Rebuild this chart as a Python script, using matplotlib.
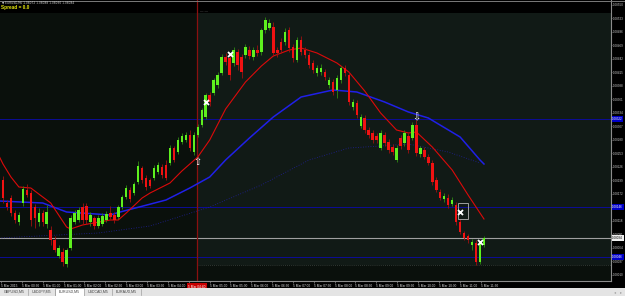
import matplotlib
matplotlib.use("Agg")
import matplotlib.pyplot as plt
from matplotlib.patches import Rectangle
import matplotlib.transforms as mtransforms

plt.rcParams["font.family"] = ["Liberation Sans", "DejaVu Sans"]

# ---------------- data (EURUSD, M5) ----------------
opens = [1.08200, 1.08154, 1.08164, 1.08134, 1.08116, 1.08154, 1.08180, 1.08174, 1.08146, 1.08116,
         1.08134, 1.08112, 1.08100, 1.08080, 1.08048, 1.08056, 1.08032, 1.08064, 1.08116, 1.08120,
         1.08146, 1.08148, 1.08116, 1.08124, 1.08108, 1.08112, 1.08120, 1.08134, 1.08130, 1.08126,
         1.08146, 1.08166, 1.08180, 1.08174, 1.08196, 1.08224, 1.08204, 1.08200, 1.08204, 1.08216,
         1.08226, 1.08230, 1.08234, 1.08264, 1.08256, 1.08276, 1.08280, 1.08290, 1.08256, 1.08290,
         1.08310, 1.08326, 1.08370, 1.08374, 1.08390, 1.08414, 1.08446, 1.08444, 1.08434, 1.08456,
         1.08446, 1.08450, 1.08460, 1.08446, 1.08460, 1.08456, 1.08500, 1.08504, 1.08506, 1.08460,
         1.08476, 1.08476, 1.08500, 1.08466, 1.08440, 1.08480, 1.08460, 1.08450, 1.08434, 1.08414,
         1.08416, 1.08416, 1.08390, 1.08396, 1.08380, 1.08400, 1.08424, 1.08410, 1.08346, 1.08354,
         1.08308, 1.08324, 1.08300, 1.08294, 1.08288, 1.08264, 1.08290, 1.08276, 1.08266, 1.08240,
         1.08284, 1.08274, 1.08288, 1.08284, 1.08310, 1.08252, 1.08260, 1.08246, 1.08234, 1.08200,
         1.08176, 1.08162, 1.08164, 1.08152, 1.08150, 1.08116, 1.08094, 1.08088, 1.08070, 1.08074,
         1.08036, 1.08070]
closes = [1.08164, 1.08146, 1.08134, 1.08120, 1.08130, 1.08182, 1.08170, 1.08120, 1.08124, 1.08134,
          1.08116, 1.08136, 1.08080, 1.08060, 1.08064, 1.08036, 1.08060, 1.08124, 1.08134, 1.08140,
          1.08120, 1.08120, 1.08130, 1.08108, 1.08124, 1.08128, 1.08132, 1.08126, 1.08120, 1.08146,
          1.08166, 1.08184, 1.08162, 1.08192, 1.08228, 1.08200, 1.08186, 1.08188, 1.08224, 1.08230,
          1.08210, 1.08204, 1.08264, 1.08240, 1.08280, 1.08288, 1.08290, 1.08264, 1.08290, 1.08306,
          1.08340, 1.08370, 1.08356, 1.08400, 1.08410, 1.08446, 1.08436, 1.08410, 1.08460, 1.08430,
          1.08416, 1.08466, 1.08448, 1.08460, 1.08454, 1.08500, 1.08520, 1.08514, 1.08454, 1.08454,
          1.08460, 1.08496, 1.08464, 1.08444, 1.08480, 1.08456, 1.08450, 1.08430, 1.08420, 1.08424,
          1.08424, 1.08406, 1.08400, 1.08376, 1.08404, 1.08424, 1.08414, 1.08356, 1.08356, 1.08330,
          1.08326, 1.08300, 1.08290, 1.08280, 1.08280, 1.08294, 1.08274, 1.08260, 1.08256, 1.08264,
          1.08268, 1.08294, 1.08260, 1.08310, 1.08254, 1.08264, 1.08246, 1.08234, 1.08196, 1.08180,
          1.08164, 1.08168, 1.08150, 1.08160, 1.08116, 1.08096, 1.08084, 1.08080, 1.08076, 1.08036,
          1.08072, 1.08084]
highs = [1.08208, 1.08160, 1.08170, 1.08140, 1.08136, 1.08188, 1.08192, 1.08180, 1.08152, 1.08144,
         1.08140, 1.08150, 1.08108, 1.08088, 1.08070, 1.08064, 1.08064, 1.08130, 1.08140, 1.08146,
         1.08154, 1.08154, 1.08136, 1.08128, 1.08130, 1.08134, 1.08138, 1.08148, 1.08136, 1.08150,
         1.08170, 1.08190, 1.08186, 1.08196, 1.08238, 1.08228, 1.08210, 1.08204, 1.08230, 1.08236,
         1.08232, 1.08240, 1.08270, 1.08268, 1.08286, 1.08294, 1.08296, 1.08300, 1.08296, 1.08312,
         1.08344, 1.08374, 1.08376, 1.08404, 1.08416, 1.08452, 1.08454, 1.08450, 1.08466, 1.08462,
         1.08452, 1.08472, 1.08468, 1.08466, 1.08470, 1.08504, 1.08526, 1.08522, 1.08516, 1.08466,
         1.08484, 1.08504, 1.08506, 1.08472, 1.08486, 1.08488, 1.08466, 1.08456, 1.08440, 1.08430,
         1.08432, 1.08422, 1.08406, 1.08402, 1.08410, 1.08428, 1.08430, 1.08416, 1.08362, 1.08360,
         1.08332, 1.08330, 1.08306, 1.08300, 1.08294, 1.08300, 1.08296, 1.08282, 1.08272, 1.08270,
         1.08290, 1.08300, 1.08294, 1.08316, 1.08320, 1.08268, 1.08266, 1.08252, 1.08240, 1.08206,
         1.08182, 1.08174, 1.08172, 1.08166, 1.08156, 1.08122, 1.08098, 1.08092, 1.08082, 1.08080,
         1.08078, 1.08088]
lows = [1.08154, 1.08140, 1.08128, 1.08114, 1.08110, 1.08148, 1.08166, 1.08108, 1.08104, 1.08108,
        1.08108, 1.08104, 1.08070, 1.08056, 1.08044, 1.08028, 1.08026, 1.08060, 1.08112, 1.08116,
        1.08112, 1.08112, 1.08108, 1.08102, 1.08104, 1.08108, 1.08116, 1.08122, 1.08114, 1.08122,
        1.08142, 1.08162, 1.08156, 1.08170, 1.08192, 1.08194, 1.08180, 1.08184, 1.08200, 1.08212,
        1.08204, 1.08200, 1.08230, 1.08236, 1.08252, 1.08272, 1.08276, 1.08258, 1.08250, 1.08286,
        1.08306, 1.08322, 1.08348, 1.08370, 1.08384, 1.08410, 1.08430, 1.08400, 1.08428, 1.08420,
        1.08404, 1.08444, 1.08442, 1.08440, 1.08448, 1.08450, 1.08494, 1.08500, 1.08448, 1.08446,
        1.08454, 1.08470, 1.08456, 1.08436, 1.08436, 1.08450, 1.08444, 1.08424, 1.08414, 1.08408,
        1.08410, 1.08400, 1.08384, 1.08370, 1.08364, 1.08394, 1.08408, 1.08350, 1.08340, 1.08324,
        1.08304, 1.08294, 1.08284, 1.08274, 1.08274, 1.08260, 1.08268, 1.08254, 1.08250, 1.08236,
        1.08262, 1.08268, 1.08254, 1.08280, 1.08248, 1.08246, 1.08242, 1.08230, 1.08190, 1.08176,
        1.08160, 1.08156, 1.08144, 1.08148, 1.08110, 1.08092, 1.08080, 1.08074, 1.08060, 1.08030,
        1.08032, 1.08066]

# moving averages read at bar indexes
red_ma_idx = [-1, 0, 2, 4, 7, 12, 16, 17, 20, 27, 29, 31, 35, 37, 42, 45, 49, 52, 56, 61, 65, 68,
              72, 75, 79, 84, 87, 91, 95, 99, 102, 104, 108, 113, 117, 120, 121]
red_ma = [1.08248, 1.08232, 1.08206, 1.08186, 1.08184, 1.08154, 1.08106, 1.08102, 1.08110, 1.08120,
          1.08120, 1.08134, 1.08164, 1.08174, 1.08194, 1.08218, 1.08246, 1.08280, 1.08342, 1.08396,
          1.08428, 1.08448, 1.08460, 1.08464, 1.08454, 1.08434, 1.08416, 1.08378, 1.08334, 1.08300,
          1.08294, 1.08296, 1.08266, 1.08220, 1.08170, 1.08134, 1.08122]
blue_ma_idx = [-1, 10, 16, 27, 29, 41, 47, 52, 56, 62, 68, 75, 83, 89, 96, 102, 107, 115, 120, 121]
blue_ma = [1.08158, 1.08154, 1.08136, 1.08130, 1.08135, 1.08160, 1.08184, 1.08206, 1.08240, 1.08284,
           1.08326, 1.08366, 1.08380, 1.08376, 1.08356, 1.08336, 1.08324, 1.08286, 1.08240, 1.08232]
slow_ma_idx = [-1, 24, 37, 52, 65, 77, 87, 95, 102, 112, 120]
slow_ma = [1.08084, 1.08094, 1.08108, 1.08146, 1.08190, 1.08240, 1.08264, 1.08268, 1.08272,
           1.08256, 1.08234]

blue_levels = [1.08322, 1.08146, 1.08046]
gray_level = 1.08084
vline_idx = 48.7

x_marks_idx = [51, 57, 115, 120]
x_marks_price = [1.08356, 1.08452, 1.08136, 1.08076]
up_arrow = (49, 1.08236)
down_arrow = (104, 1.08326)

price_ticks = [1.08550, 1.08523, 1.08496, 1.08469, 1.08442, 1.08415, 1.08388, 1.08361, 1.08334,
               1.08307, 1.08280, 1.08253, 1.08226, 1.08199, 1.08172, 1.08145, 1.08118, 1.08091,
               1.08064, 1.08037, 1.08010]
time_labels = ["5 Mar 2015", "5 Mar 00:30", "5 Mar 01:00", "5 Mar 01:30", "5 Mar 02:00",
               "5 Mar 02:30", "5 Mar 03:00", "5 Mar 03:30", "5 Mar 04:00", "5 Mar 04:30",
               "5 Mar 05:00", "5 Mar 05:30", "5 Mar 06:00", "5 Mar 06:30", "5 Mar 07:00",
               "5 Mar 07:30", "5 Mar 08:00", "5 Mar 08:30", "5 Mar 09:00", "5 Mar 09:30",
               "5 Mar 10:00", "5 Mar 10:30", "5 Mar 11:00", "5 Mar 11:30"]
vline_label = "5 Mar 04:40"
tabs = ["GBPUSD,M5", "USDJPY,M5", "EURUSD,M5", "USDCAD,M5", "EURAUD,M5"]

# ---------------- layout ----------------
W, H = 625, 296
SP = 3.975          # px per bar
fig = plt.figure(figsize=(W / 100, H / 100), dpi=100)
fig.patch.set_facecolor("black")

ax = fig.add_axes([0, 1 - 281 / H, 611 / W, 281 / H])
ax.set_xlim(-3 / SP, 608 / SP)
ax.set_ylim(1.07998, 1.08560)
ax.set_facecolor("#0a100c")


def py2price(py):
    return 1.08560 - py * (1.08560 - 1.07998) / 281


# lighter area right of the vertical line
ax.add_patch(Rectangle((vline_idx, py2price(265)), 608 / SP - vline_idx, py2price(13) - py2price(265),
                       facecolor="#111a16", edgecolor="none", zorder=0.2))
ax.plot([vline_idx, 608 / SP], [py2price(265)] * 2, color="#3c4440", lw=0.6, ls=(0, (1, 1.5)), zorder=0.3)
# black header strip
ax.add_patch(Rectangle((0, (281 - 13) / 281), 1, 13 / 281, transform=ax.transAxes,
                       facecolor="black", edgecolor="none", zorder=0.4))

# levels
for lv in blue_levels:
    ax.axhline(lv, color="#0c0c96", lw=0.7, zorder=1)
ax.axhline(gray_level, color="#a0a0a0", lw=0.8, zorder=1)
ax.axvline(vline_idx, color="#8a1010", lw=0.9, zorder=1)

# moving averages
ax.plot(slow_ma_idx, slow_ma, color="#20209a", lw=0.6, ls=(0, (1, 2)), zorder=2)
ax.plot(blue_ma_idx, blue_ma, color="#2020e8", lw=1.1, zorder=2)
ax.plot(red_ma_idx, red_ma, color="#dc0a0a", lw=0.8, zorder=2)

# candles
bw = 0.62
for i, (o, c, h, l) in enumerate(zip(opens, closes, highs, lows)):
    up = c >= o
    body = "#5ef01e" if up else "#f01212"
    wick = "#2e8a12" if up else "#a01010"
    ax.plot([i, i], [l, h], color=wick, lw=0.6, zorder=3, solid_capstyle="butt")
    lo, hi = min(o, c), max(o, c)
    ax.add_patch(Rectangle((i - bw / 2, lo), bw, max(hi - lo, 0.000015),
                           facecolor=body, edgecolor="none", zorder=4))

# signals
ax.plot(x_marks_idx, x_marks_price, ls="none", marker="x", ms=3.6, mew=1.3, color="white", zorder=6)
ax.add_patch(Rectangle((114.4, py2price(219)), 2.6, py2price(203) - py2price(219),
                       facecolor="none", edgecolor="#b4b4b4", lw=0.6, zorder=5))
ax.text(up_arrow[0], up_arrow[1], "\u21e7", color="white", fontsize=7, ha="center", va="center",
        family="DejaVu Sans", zorder=6)
ax.text(down_arrow[0], down_arrow[1], "\u21e9", color="white", fontsize=7, ha="center", va="center",
        family="DejaVu Sans", zorder=6)

# spines / axes
for s in ["left", "top"]:
    ax.spines[s].set_visible(False)
for s in ["right", "bottom"]:
    ax.spines[s].set_color("#8c8c8c")
    ax.spines[s].set_linewidth(0.8)
ax.yaxis.tick_right()
ax.set_yticks(price_ticks)
ax.set_yticklabels([f"{p:.5f}" for p in price_ticks])
ax.tick_params(axis="y", colors="#8c8c8c", labelcolor="#c8c8c8", labelsize=2.2, length=1.0,
               width=0.5, pad=0.4)

tick_pos = [(1 + 20.85 * k - 3) / SP for k in range(len(time_labels))]
ax.set_xticks(tick_pos)
ax.set_xticklabels(time_labels)
ax.tick_params(axis="x", colors="#8c8c8c", labelcolor="#e0e0e0", labelsize=2.3, length=1.2,
               width=0.5, pad=0.8)
for k, lbl in enumerate(ax.get_xticklabels()):
    lbl.set_horizontalalignment("left")
    # the label that sits under the vertical line's time box is hidden in the terminal
    if abs(tick_pos[k] - vline_idx) < 2.0:
        lbl.set_visible(False)

blend_y = mtransforms.blended_transform_factory(ax.transAxes, ax.transData)
for lv in blue_levels:
    ax.text(1.002, lv, f"{lv:.5f}", transform=blend_y, fontsize=2.2, color="white", va="center",
            ha="left", bbox=dict(boxstyle="square,pad=0.2", fc="#0000c8", ec="none"), clip_on=False,
            zorder=10)
ax.text(1.002, gray_level, f"{gray_level:.5f}", transform=blend_y, fontsize=2.2, color="black",
        va="center", ha="left", bbox=dict(boxstyle="square,pad=0.2", fc="#f0f0f0", ec="none"),
        clip_on=False, zorder=10)

blend_x = mtransforms.blended_transform_factory(ax.transData, ax.transAxes)
ax.text(vline_idx, -0.02, vline_label, transform=blend_x, fontsize=2.3, color="white", ha="center",
        va="center", bbox=dict(boxstyle="square,pad=0.4", fc="#c80000", ec="none"), clip_on=False,
        zorder=10)

# header text
fig.text(2 / W, 1 - 2.8 / H, "\u25bc EURUSD,M5 1.08072 1.08088 1.08030 1.08084", fontsize=2.1,
         color="#d0d0d0", va="center", ha="left", family=["DejaVu Sans"])
fig.text(1 / W, 1 - 8 / H, "Spread = 0.0", fontsize=3.4, color="#e8e810", va="center", ha="left",
         weight="bold")
fig.text(200 / W, 1 - 11.5 / H, "\u2014 \u2014", fontsize=2.5, color="#6a6a6a", va="center", ha="left")
fig.add_artist(plt.Line2D([0, 1], [1 - 0.5 / H] * 2, color="#7a7a7a", lw=0.7))

# tab bar
fig.add_artist(Rectangle((0, 0), 1, 8.5 / H, transform=fig.transFigure, facecolor="#e4e4e4",
                         edgecolor="none"))
tab_edges = [0, 28, 55, 84, 112, 141]
for k, name in enumerate(tabs):
    x0, x1 = tab_edges[k], tab_edges[k + 1]
    if name == "EURUSD,M5":
        fig.add_artist(Rectangle((x0 / W, 0.3 / H), (x1 - x0) / W, 8.2 / H, transform=fig.transFigure,
                                 facecolor="white", edgecolor="#9a9a9a", lw=0.5))
    else:
        fig.add_artist(plt.Line2D([x1 / W, x1 / W], [1.5 / H, 7 / H], color="#a0a0a0", lw=0.5))
    fig.text((x0 + x1) / 2 / W, 4.3 / H, name, fontsize=2.6, color="#404040", ha="center", va="center")
fig.text(615 / W, 4.3 / H, "\u25c2", fontsize=3.0, color="#a0a0a0", ha="center", va="center",
         family=["DejaVu Sans"])
fig.text(621 / W, 4.3 / H, "\u25b8", fontsize=3.0, color="#a0a0a0", ha="center", va="center",
         family=["DejaVu Sans"])

fig.savefig("out.png", dpi=100, facecolor=fig.get_facecolor())
